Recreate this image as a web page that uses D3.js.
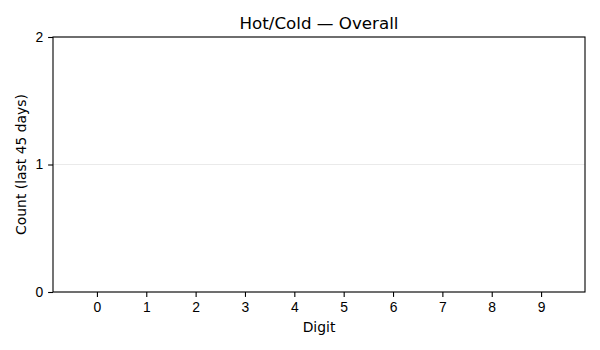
<!DOCTYPE html>
<html>
<head>
<meta charset="utf-8">
<script src="https://cdn.jsdelivr.net/npm/d3@7"></script>
<style>
  html, body { margin:0; padding:0; background:#fff; }
  svg { display:block; font-family:"DejaVu Sans", sans-serif; }
  .tick text { font-size:13.9px; fill:#000; }
</style>
</head>
<body>
<svg id="chart" width="600" height="350"></svg>
<script>
/* Hot/Cold — 数字ごとの出現回数 (直近45日) */
const digits = [0,1,2,3,4,5,6,7,8,9];
const counts = [0,0,0,0,0,0,0,0,0,0];
const yTicks = [0,1,2];

const W = 600, H = 350;
const m = { left:53, right:15, top:37, bottom:58 };
const iw = W - m.left - m.right, ih = H - m.top - m.bottom;

const svg = d3.select("#chart");
const g = svg.append("g").attr("transform", `translate(${m.left},${m.top})`);

const x = d3.scaleLinear().domain([-0.89, 9.89]).range([0, iw]);
const y = d3.scaleLinear().domain([0, 2]).range([ih, 0]);

/* grid */
g.append("g").selectAll("line").data(yTicks).join("line")
  .attr("x1",0).attr("x2",iw)
  .attr("y1",d=>y(d)).attr("y2",d=>y(d))
  .attr("stroke","#e5e5e5").attr("stroke-width",0.8);

/* bars (all zero) */
g.append("g").selectAll("rect").data(digits).join("rect")
  .attr("x",d=>x(d-0.4)).attr("width",x(0.8)-x(0))
  .attr("y",(d,i)=>y(counts[i])).attr("height",(d,i)=>y(0)-y(counts[i]))
  .attr("fill","#1f77b4");

/* axes */
const xAxis = g.append("g").attr("transform",`translate(0,${ih})`)
  .call(d3.axisBottom(x).tickValues(digits).tickFormat(d3.format("d")).tickSize(4.9).tickPadding(4.9));
const yAxis = g.append("g")
  .call(d3.axisLeft(y).tickValues(yTicks).tickFormat(d3.format("d")).tickSize(4.9).tickPadding(4.9));
[xAxis,yAxis].forEach(a=>{
  a.select(".domain").remove();
  a.selectAll(".tick line").attr("stroke","#000").attr("stroke-width",1.1);
});

/* spines */
g.append("rect").attr("width",iw).attr("height",ih)
  .attr("fill","none").attr("stroke","#000").attr("stroke-width",1.1);

/* labels */
svg.append("text").attr("x",m.left+iw/2).attr("y",29)
  .attr("text-anchor","middle").attr("font-size",16.7).text("Hot/Cold — Overall");
svg.append("text").attr("x",m.left+iw/2).attr("y",332)
  .attr("text-anchor","middle").attr("font-size",13.9).text("Digit");
svg.append("text")
  .attr("transform",`translate(26,${m.top+ih/2}) rotate(-90)`)
  .attr("text-anchor","middle").attr("font-size",13.9).text("Count (last 45 days)");
</script>
</body>
</html>
